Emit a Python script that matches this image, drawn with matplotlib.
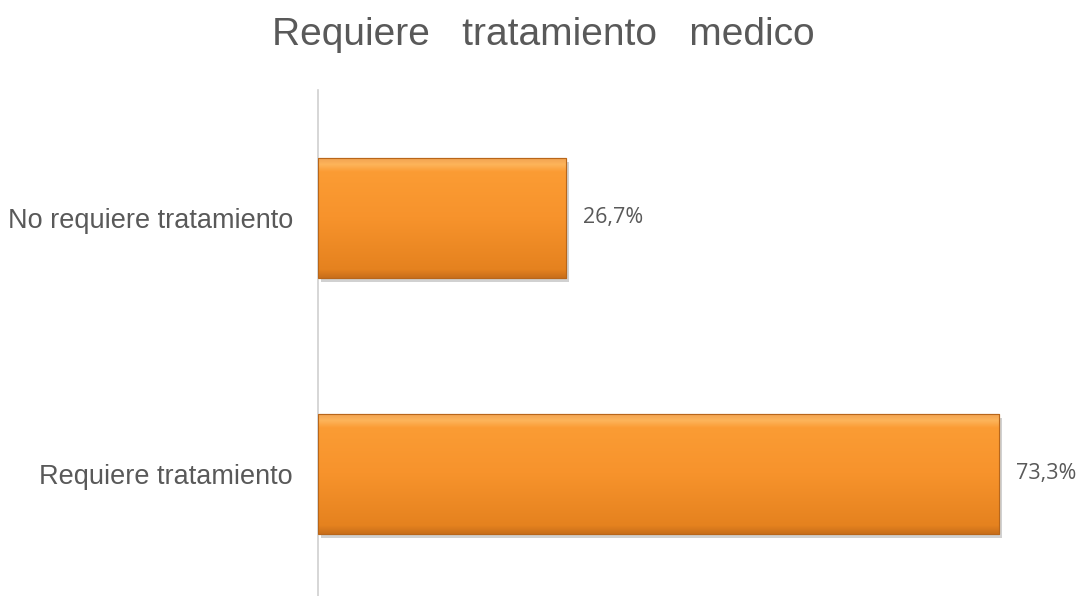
import matplotlib
matplotlib.use("Agg")
import matplotlib.pyplot as plt
import numpy as np
from matplotlib.colors import LinearSegmentedColormap

categories = ["Requiere tratamiento", "No requiere tratamiento"]
values = [73.3, 26.7]
value_labels = ["73,3%", "26,7%"]
title = "Requiere   tratamiento   medico"

W, H = 1081, 596
fig = plt.figure(figsize=(W / 100, H / 100), dpi=100)
ax = fig.add_axes([318 / W, 0, 1 - 318 / W, (596 - 90) / H])

ypos = np.arange(len(categories))
bars = ax.barh(ypos, values, height=0.47, color="#F28C28", zorder=2,
               edgecolor="#B86A1A", linewidth=0.8)

ax.set_xlim(0, (W - 318) / 9.29)
ax.set_ylim(-0.477, 1.5)

cmap = LinearSegmentedColormap.from_list(
    "bevel", [(0.0, "#C86E1A"), (0.07, "#E5821F"), (0.5, "#F7932C"),
              (0.88, "#FB9C34"), (0.94, "#FDB45A"), (1.0, "#F0A050")])
grad = np.linspace(0, 1, 256).reshape(-1, 1)
for b in bars:
    x0, y0 = b.get_x(), b.get_y()
    w, h = b.get_width(), b.get_height()
    ax.add_patch(plt.Rectangle((x0 + 0.3, y0 - 0.015), w, h, color="#000000",
                               alpha=0.18, zorder=1, lw=0))
    im = ax.imshow(grad, cmap=cmap, aspect="auto", origin="lower",
                   extent=[x0, x0 + w, y0, y0 + h], zorder=3)
    im.set_clip_path(b)
    ax.add_patch(plt.Rectangle((x0, y0), w, h, fill=False, edgecolor="#B8661A",
                               lw=0.8, zorder=4))

for v, lab, y in zip(values, value_labels, ypos):
    ax.text(v + 1.8, y, lab, va="center", ha="left", fontsize=15.5,
            color="#595959", family="Open Sans")

ax.set_yticks(ypos)
ax.set_yticklabels(categories, fontsize=19.5, color="#595959",
                   family="Liberation Sans")
ax.tick_params(axis="y", length=0, pad=18)
ax.set_xticks([])
for s in ["top", "right", "bottom"]:
    ax.spines[s].set_visible(False)
ax.spines["left"].set_color("#D0D0D0")
ax.spines["left"].set_linewidth(1.2)

fig.text(543 / W, 1 - 35 / H, title, ha="center", va="center",
         fontsize=28, color="#595959", family="Liberation Sans")

fig.savefig("out.png", dpi=100)
